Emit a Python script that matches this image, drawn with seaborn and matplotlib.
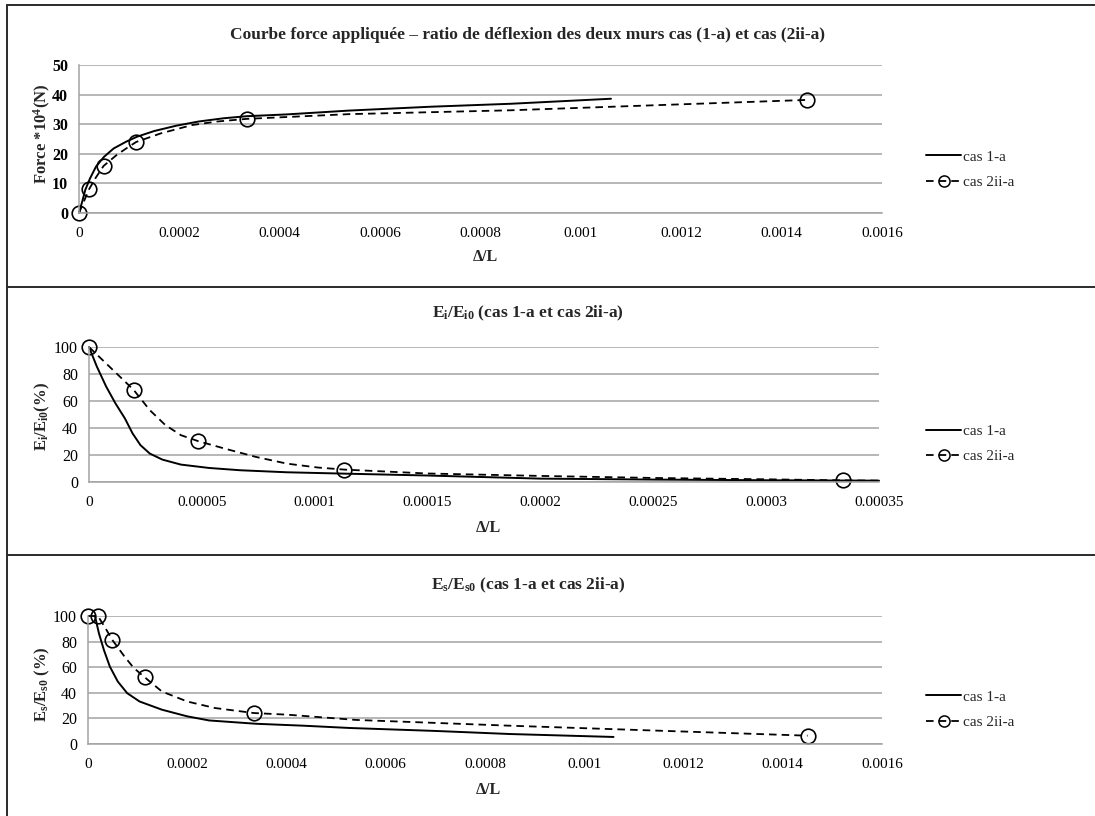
import matplotlib
matplotlib.use("Agg")
import matplotlib.pyplot as plt
import seaborn as sns
from matplotlib.lines import Line2D

# ---------------- data ----------------
# Panel 1 : force vs deflection ratio
force_c1_x = [0, 6.3e-6, 1.25e-5, 2.2e-5, 3.4e-5, 5.0e-5, 6.9e-5, 9.4e-5, 1.16e-4, 1.5e-4,
              1.94e-4, 2.38e-4, 2.88e-4, 3.34e-4, 4.13e-4, 5.38e-4, 7.0e-4, 8.6e-4, 1.06e-3]
force_c1_y = [0, 3.8, 7.8, 11.7, 15.7, 19.0, 21.8, 24.1, 25.8, 27.7,
              29.5, 30.9, 32.0, 32.7, 33.3, 34.6, 35.9, 36.9, 38.6]
force_c2_curve_x = [0, 2.0e-5, 3.25e-5, 4.9e-5, 7.5e-5, 9.4e-5, 1.14e-4, 1.63e-4, 2.25e-4,
                    2.75e-4, 3.34e-4, 5.38e-4, 8.6e-4, 1.45e-3]
force_c2_curve_y = [0, 8.0, 11.7, 15.9, 19.6, 21.8, 24.0, 26.9, 29.7,
                    30.9, 31.8, 33.4, 34.7, 38.2]
force_c2_pts_x = [0, 2.0e-5, 4.9e-5, 1.14e-4, 3.34e-4, 1.45e-3]
force_c2_pts_y = [0, 8.0, 15.9, 24.0, 31.8, 38.2]

# Panel 2 : Ei/Ei0
ei_c1_x = [0, 3.45e-6, 7.6e-6, 1.17e-5, 1.59e-5, 1.93e-5, 2.28e-5, 2.69e-5, 3.25e-5, 4.07e-5,
           5.32e-5, 6.7e-5, 8.77e-5, 1.13e-4, 1.5e-4, 2.0e-4, 2.5e-4, 3.0e-4, 3.5e-4]
ei_c1_y = [100, 85.6, 70.7, 58.3, 47.1, 36.0, 27.3, 21.1, 16.6, 12.9,
           10.4, 8.7, 7.2, 6.2, 4.8, 2.5, 1.8, 1.3, 1.0]
ei_c2_curve_x = [0, 1.98e-5, 2.69e-5, 3.38e-5, 4.07e-5, 4.83e-5, 6.0e-5, 7.39e-5, 8.77e-5,
                 1.015e-4, 1.13e-4, 1.5e-4, 2.0e-4, 2.5e-4, 3.0e-4, 3.34e-4, 3.5e-4]
ei_c2_curve_y = [100, 68.2, 53.3, 42.2, 34.7, 30.3, 24.8, 18.6, 13.6,
                 10.7, 9.2, 6.3, 4.5, 3.0, 2.0, 1.2, 1.0]
ei_c2_pts_x = [0, 1.98e-5, 4.83e-5, 1.13e-4, 3.34e-4]
ei_c2_pts_y = [100, 68.2, 30.3, 9.2, 1.2]

# Panel 3 : Es/Es0
es_c1_x = [1.4e-5, 2.2e-5, 3.2e-5, 4.4e-5, 6.0e-5, 7.9e-5, 1.04e-4, 1.49e-4, 2.0e-4, 2.44e-4,
           3.39e-4, 4.34e-4, 5.28e-4, 7.0e-4, 8.5e-4, 1.059e-3]
es_c1_y = [100, 86.5, 73.5, 60.5, 48.8, 39.7, 33.2, 26.8, 21.6, 18.4,
           15.8, 14.3, 12.5, 10.2, 7.8, 5.5]
es_c2_curve_x = [0, 2.0e-5, 3.5e-5, 4.9e-5, 7.3e-5, 9.2e-5, 1.14e-4, 1.49e-4, 2.0e-4, 2.56e-4,
                 3.34e-4, 4.02e-4, 5.4e-4, 8.5e-4, 1.45e-3]
es_c2_curve_y = [100, 100, 90.6, 81.3, 68.6, 59.5, 52.2, 41.0, 33.2, 28.1,
                 24.2, 22.9, 18.8, 14.3, 6.5]
es_c2_pts_x = [0, 2.0e-5, 4.9e-5, 1.14e-4, 3.34e-4, 1.45e-3]
es_c2_pts_y = [100, 100, 81.3, 52.2, 24.2, 6.5]

series_labels = ["cas 1-a", "cas 2ii-a"]

xticks_a = [0, 0.0002, 0.0004, 0.0006, 0.0008, 0.001, 0.0012, 0.0014, 0.0016]
xticklabels_a = ["0", "0.0002", "0.0004", "0.0006", "0.0008", "0.001", "0.0012", "0.0014", "0.0016"]
xticks_b = [0, 0.00005, 0.0001, 0.00015, 0.0002, 0.00025, 0.0003, 0.00035]
xticklabels_b = ["0", "0.00005", "0.0001", "0.00015", "0.0002", "0.00025", "0.0003", "0.00035"]
yticks_force = [0, 10, 20, 30, 40, 50]
yticks_pct = [0, 20, 40, 60, 80, 100]

titles = ["Courbe force appliquée \u2013 ratio de déflexion des deux murs cas (1-a) et cas (2ii-a)",
          "$E_i/E_{i0}$ (cas 1-a et cas 2ii-a)",
          "$E_s/E_{s0}$ (cas 1-a et cas 2ii-a)"]
ylabels = ["Force *10$^{4}$(N)", "$E_i/E_{i0}$(%)", "$E_s/E_{s0}$ (%)"]
xlabel = "\u0394/L"

# ---------------- style ----------------
sns.set_theme(style="white")
plt.rcParams["font.family"] = ["Liberation Serif", "DejaVu Serif"]
plt.rcParams["mathtext.fontset"] = "custom"
plt.rcParams["mathtext.rm"] = "Liberation Serif:bold"
plt.rcParams["mathtext.it"] = "Liberation Serif:bold"
plt.rcParams["mathtext.bf"] = "Liberation Serif:bold"

W, H = 1095, 816
fig = plt.figure(figsize=(W / 100, H / 100), dpi=100)
fig.patch.set_facecolor("white")


def fx(px):
    return px / W


def fy(py):
    return 1 - py / H


GRID = "#a3a3a3"
DASH = (0, (4.2, 2.8))

panels = [
    dict(c1=(force_c1_x, force_c1_y), c2c=(force_c2_curve_x, force_c2_curve_y),
         c2p=(force_c2_pts_x, force_c2_pts_y), xt=xticks_a, xtl=xticklabels_a,
         yt=yticks_force, xmax=0.0016, ymax=50,
         box=(79, 882, 65, 213), title_y=35, ylab_y=134, xlab=(485, 257), leg_y=169.5),
    dict(c1=(ei_c1_x, ei_c1_y), c2c=(ei_c2_curve_x, ei_c2_curve_y),
         c2p=(ei_c2_pts_x, ei_c2_pts_y), xt=xticks_b, xtl=xticklabels_b,
         yt=yticks_pct, xmax=0.00035, ymax=100,
         box=(89, 879, 347, 482), title_y=313, ylab_y=417, xlab=(488, 528), leg_y=444),
    dict(c1=(es_c1_x, es_c1_y), c2c=(es_c2_curve_x, es_c2_curve_y),
         c2p=(es_c2_pts_x, es_c2_pts_y), xt=xticks_a, xtl=xticklabels_a,
         yt=yticks_pct, xmax=0.0016, ymax=100,
         box=(88, 882, 616, 744), title_y=585, ylab_y=684, xlab=(488, 790), leg_y=709.5),
]

for i, p in enumerate(panels):
    x0, x1, yt_, yb_ = p["box"]
    ax = fig.add_axes([fx(x0), fy(yb_), (x1 - x0) / W, (yb_ - yt_) / H])
    ax.set_facecolor("white")

    sns.lineplot(x=p["c1"][0], y=p["c1"][1], ax=ax, color="black", lw=1.4,
                 sort=False, estimator=None, clip_on=False)
    sns.lineplot(x=p["c2c"][0], y=p["c2c"][1], ax=ax, color="black", lw=1.3,
                 linestyle=DASH, sort=False, estimator=None, clip_on=False)
    sns.lineplot(x=p["c2p"][0], y=p["c2p"][1], ax=ax, color="black", marker="o",
                 markersize=10.5, markerfacecolor="none", markeredgecolor="black",
                 markeredgewidth=1.2, linestyle="none", sort=False, estimator=None,
                 clip_on=False)

    ax.set_xlim(0, p["xmax"])
    ax.set_ylim(0, p["ymax"])
    ax.set_xticks(p["xt"])
    ax.set_xticklabels(p["xtl"])
    ax.set_yticks(p["yt"])
    ax.set_yticklabels([str(v) for v in p["yt"]], fontweight="bold" if i == 0 else "normal")
    ax.grid(axis="y", color=GRID, lw=1.1)
    ax.grid(axis="x", visible=False)
    ax.set_axisbelow(True)
    for s in ["top", "right"]:
        ax.spines[s].set_visible(False)
    for s in ["left", "bottom"]:
        ax.spines[s].set_color(GRID)
        ax.spines[s].set_linewidth(1.1)
    ax.tick_params(axis="x", length=0, labelsize=11, pad=10, colors="black")
    ax.tick_params(axis="y", length=0, labelsize=11.5, pad=8, colors="black")

    ax.set_xlabel(xlabel, fontsize=11.5, fontweight="bold", va="center")
    ax.xaxis.set_label_coords(fx(p["xlab"][0]), fy(p["xlab"][1]), transform=fig.transFigure)
    ax.set_ylabel(ylabels[i], fontsize=12, fontweight="bold", va="center")
    ax.yaxis.set_label_coords(fx(42), fy(p["ylab_y"]), transform=fig.transFigure)

    fig.text(fx(528), fy(p["title_y"]), titles[i], ha="center", va="center",
             fontsize=12.5, fontweight="bold")

    h1 = Line2D([], [], color="black", lw=1.4)
    h2 = Line2D([], [], color="black", lw=1.3, linestyle=DASH, marker="o",
                markersize=8, markerfacecolor="none", markeredgecolor="black",
                markeredgewidth=1.1)
    ax.legend([h1, h2], series_labels, loc="center left",
              bbox_to_anchor=(fx(926), fy(p["leg_y"])), bbox_transform=fig.transFigure,
              frameon=False, fontsize=11, handlelength=2.3, handletextpad=0.15,
              labelspacing=0.75, borderpad=0, borderaxespad=0, numpoints=1)

# panel frames
BORDER = "#2b2b2b"
for yb in [5, 287, 555]:
    fig.add_artist(Line2D([fx(7), 1.0], [fy(yb), fy(yb)], color=BORDER, lw=1.4,
                          transform=fig.transFigure))
fig.add_artist(Line2D([fx(7), fx(7)], [fy(5), 0.0], color=BORDER, lw=1.4,
                      transform=fig.transFigure))

fig.savefig("out.png", dpi=100, facecolor="white")
